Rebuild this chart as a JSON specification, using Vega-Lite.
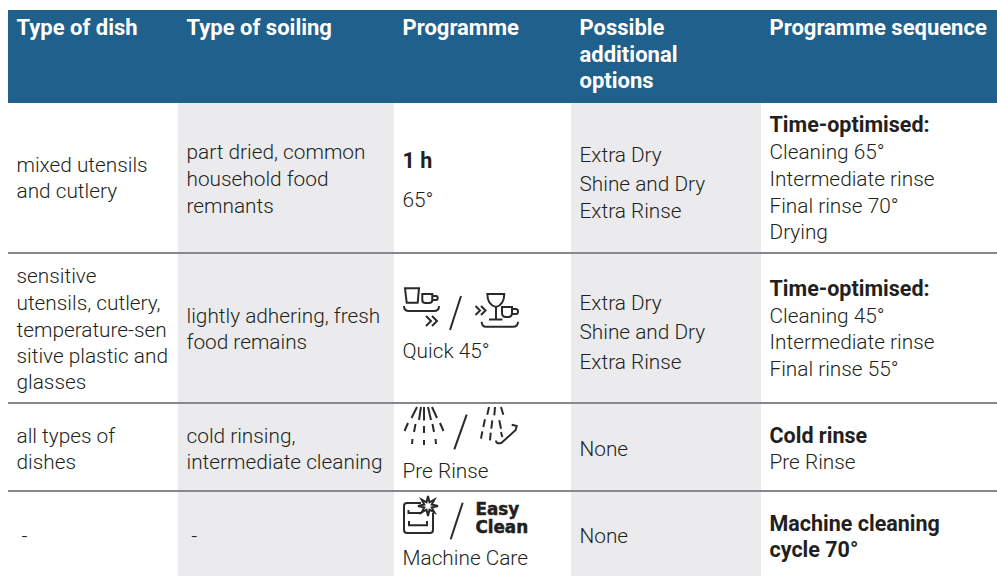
{
"$schema":"https://vega.github.io/schema/vega-lite/v6.json",
"width":997,"height":576,"padding":0,"autosize":{"type":"none"},
"background":"white",
"config":{"view":{"stroke":null}},
"resolve":{"scale":{"y":"independent"}},
"datasets":{
"bands":[
{"name":"soiling","col":2,"colEnd":3,"edge":1,"edgeEnd":5},
{"name":"options","col":4,"colEnd":5,"edge":1,"edgeEnd":5}
],
"head":[{"col":1,"colEnd":6,"edge":0,"edgeEnd":1}],
"rules":[{"col":1,"colEnd":6,"edge":2},{"col":1,"colEnd":6,"edge":3},{"col":1,"colEnd":6,"edge":4}],
"headers":[
{"col":1,"line":1,"t":"Type of dish"},
{"col":2,"line":1,"t":"Type of soiling"},
{"col":3,"line":1,"t":"Programme"},
{"col":4,"line":1,"t":"Possible"},
{"col":4,"line":2,"t":"additional"},
{"col":4,"line":3,"t":"options"},
{"col":5,"line":1,"t":"Programme sequence"}
],
"body":[
{"col":1,"line":8,"t":"mixed utensils"},
{"col":1,"line":11,"t":"and cutlery"},
{"col":2,"line":5,"t":"part dried, common"},
{"col":2,"line":9,"t":"household food"},
{"col":2,"line":13,"t":"remnants"},
{"col":3,"line":12,"t":"65°"},
{"col":4,"line":6,"t":"Extra Dry"},
{"col":4,"line":10,"t":"Shine and Dry"},
{"col":4,"line":14,"t":"Extra Rinse"},
{"col":5,"line":5,"t":"Cleaning 65°"},
{"col":5,"line":9,"t":"Intermediate rinse"},
{"col":5,"line":13,"t":"Final rinse 70°"},
{"col":5,"line":15,"t":"Drying"},
{"col":1,"line":16,"t":"sensitive"},
{"col":1,"line":18,"t":"utensils, cutlery,"},
{"col":1,"line":20,"t":"temperature-sen"},
{"col":1,"line":24,"t":"sitive plastic and"},
{"col":1,"line":27,"t":"glasses"},
{"col":2,"line":19,"t":"lightly adhering, fresh"},
{"col":2,"line":22,"t":"food remains"},
{"col":3,"line":23,"t":"Quick 45°"},
{"col":4,"line":18,"t":"Extra Dry"},
{"col":4,"line":21,"t":"Shine and Dry"},
{"col":4,"line":25,"t":"Extra Rinse"},
{"col":5,"line":19,"t":"Cleaning 45°"},
{"col":5,"line":22,"t":"Intermediate rinse"},
{"col":5,"line":26,"t":"Final rinse 55°"},
{"col":1,"line":28,"t":"all types of"},
{"col":1,"line":30,"t":"dishes"},
{"col":2,"line":28,"t":"cold rinsing,"},
{"col":2,"line":30,"t":"intermediate cleaning"},
{"col":3,"line":31,"t":"Pre Rinse"},
{"col":4,"line":29,"t":"None"},
{"col":5,"line":30,"t":"Pre Rinse"},
{"col":1.03,"line":35,"t":"-"},
{"col":2.022,"line":35,"t":"-"},
{"col":3,"line":37,"t":"Machine Care"},
{"col":4,"line":35,"t":"None"}
],
"lead":[
{"col":3,"line":7,"t":"1 h"},
{"col":5,"line":4,"t":"Time-optimised:"},
{"col":5,"line":17,"t":"Time-optimised:"},
{"col":5,"line":28,"t":"Cold rinse"},
{"col":5,"line":33,"t":"Machine cleaning"},
{"col":5,"line":36,"t":"cycle 70°"}
],
"logo":[
{"col":3.46,"line":32,"t":"Easy"},
{"col":3.46,"line":34,"t":"Clean"}
],
"icons":[
{"icon":"quick","col":3,"edge":2},
{"icon":"prerinse","col":3,"edge":3},
{"icon":"machinecare","col":3,"edge":4}
]
},
"layer":[
{"data":{"name":"head"},"mark":{"type":"rect","color":"#20608c"},
"encoding":{"x":{"field":"col","type":"quantitative","axis":null,"scale":{"domain":[1,2,3,4,5,6],"range":[8,178,394,571,761,997],"nice":false,"zero":false}},"x2":{"field":"colEnd"},
"y":{"field":"edge","type":"quantitative","axis":null,"scale":{"domain":[0,1,2,3,4,5],"range":[10,103,253,403,491,576],"nice":false,"zero":false}},"y2":{"field":"edgeEnd"}}},
{"data":{"name":"bands"},"mark":{"type":"rect","color":"#ebebed"},
"encoding":{"x":{"field":"col","type":"quantitative","axis":null,"scale":{"domain":[1,2,3,4,5,6],"range":[8,178,394,571,761,997],"nice":false,"zero":false}},"x2":{"field":"colEnd"},
"y":{"field":"edge","type":"quantitative","axis":null,"scale":{"domain":[0,1,2,3,4,5],"range":[10,103,253,403,491,576],"nice":false,"zero":false}},"y2":{"field":"edgeEnd"}}},
{"data":{"name":"rules"},"mark":{"type":"rule","color":"#88888c","strokeWidth":2},
"encoding":{"x":{"field":"col","type":"quantitative","axis":null,"scale":{"domain":[1,2,3,4,5,6],"range":[8,178,394,571,761,997],"nice":false,"zero":false}},"x2":{"field":"colEnd"},
"y":{"field":"edge","type":"quantitative","axis":null,"scale":{"domain":[0,1,2,3,4,5],"range":[10,103,253,403,491,576],"nice":false,"zero":false}}}},
{"data":{"name":"icons"},"mark":{"type":"point","filled":false,"fill":"transparent","stroke":"#2b2a29","strokeWidth":2,"opacity":1},
"encoding":{"x":{"field":"col","type":"quantitative","axis":null,"scale":{"domain":[1,2,3,4,5,6],"range":[8,178,394,571,761,997],"nice":false,"zero":false}},
"y":{"field":"edge","type":"quantitative","axis":null,"scale":{"domain":[0,1,2,3,4,5],"range":[10,103,253,403,491,576],"nice":false,"zero":false}},
"size":{"value":4},
"shape":{"field":"icon","type":"nominal","legend":null,"scale":{"domain":["quick","prerinse","machinecare"],"range":[
"M11,35.3 L25,35.3 L23.7,49.7 L12.7,49.7 Z M28.3,41 L38.3,41 L38.3,47 Q38.3,50 35,50 L31.5,50 Q28.3,50 28.3,47 Z M38.3,43 L42,43 Q43.7,43 43.7,45 Q43.7,47 42,47 L38.3,47 M10,53 Q10,58 15,58 L40,58 Q45,58 45,53 M32,63 L37,68 L32,73 M38,63 L43,68 L38,73 M56,77 L67,43 M81.5,53 L86,57.5 L81.5,62 M87,53 L91.5,57.5 L87,62 M93.3,41 L110.3,41 Q110,52 102,54 Q93.5,52 93.3,41 Z M102,54 L102,66 M95,66.5 L108.5,66.5 M108,54 L118,54 L118,60 Q118,64 114,64 L112,64 Q108,64 108,60 Z M118,56 L122,56 Q124,56 124,58.5 Q124,61 122,61 L118,61 M87.7,68.7 Q87.7,73.7 92,73.7 L119,73.7 Q124,73.7 124,68.7",
"M23,4 L17.5,15 M27,4 L25,17 M30,4 L30,17.5 M34,4 L37,17 M38,4 L43,15 M14,20 L10.5,28 M21.5,21 L20,29 M30,23 L30,30 M38.5,21 L40,29 M46,20 L49.5,28 M18.5,36 L18,41 M30,37 L30,42 M41.5,36 L42,41 M60.3,46.3 L72.7,11.7 M95,4 L93.3,11.7 M101,4 L100.3,12.3 M107,4 L109.3,11.7 M91,16.3 L89.3,24 M98.3,17.3 L97.3,25.7 M105.3,17.3 L107,25.7 M88.3,28.3 L87,35.7 M96.7,29.7 L96,37.3 M107,29 L108.3,34 M117.7,21.7 L122.7,23 L121.7,27 L107.7,39.7 Q102,41.5 102,37.5",
"M27,12 L13,12 Q10,12 10,15 L10,39 Q10,42 13,42 L36,42 Q39,42 39,39 L39,22 M14.5,19 L14.5,22 L28,22 M15,30 L15,34.3 L33,34.3 L33,30 M34,5 L35.5,11.3 L40.4,8.6 L37.7,13.5 L44,15 L37.7,16.5 L40.4,21.4 L35.5,18.7 L34,25 L32.5,18.7 L27.6,21.4 L30.3,16.5 L24,15 L30.3,13.5 L27.6,8.6 L32.5,11.3 Z M56.7,48.3 L68.7,11.7"
]}}}},
{"data":{"name":"headers"},"mark":{"type":"text","align":"left","baseline":"alphabetic","dx":8.5,"font":"Roboto","fontWeight":"bold","fontSize":22,"color":"#ffffff"},
"encoding":{"x":{"field":"col","type":"quantitative","axis":null,"scale":{"domain":[1,2,3,4,5,6],"range":[8,178,394,571,761,997],"nice":false,"zero":false}},
"y":{"field":"line","type":"quantitative","axis":null,"scale":{"domain":[1,2,3,4,5,6,7,8,9,10,11,12,13,14,15,16,17,18,19,20,21,22,23,24,25,26,27,28,29,30,31,32,33,34,35,36,37],"range":[35,62,88,132,159,162,168,172,186,191,198,207,213,218,239,283,296,310,323,337,339,349,358,363,369,376,389,443,456,469,478,515,531,533,543,557,565],"nice":false,"zero":false}},"text":{"field":"t","type":"nominal"}}},
{"data":{"name":"body"},"mark":{"type":"text","align":"left","baseline":"alphabetic","dx":8.5,"font":"Roboto","fontWeight":300,"fontSize":20.8,"color":"#231f20"},
"encoding":{"x":{"field":"col","type":"quantitative","axis":null,"scale":{"domain":[1,2,3,4,5,6],"range":[8,178,394,571,761,997],"nice":false,"zero":false}},
"y":{"field":"line","type":"quantitative","axis":null,"scale":{"domain":[1,2,3,4,5,6,7,8,9,10,11,12,13,14,15,16,17,18,19,20,21,22,23,24,25,26,27,28,29,30,31,32,33,34,35,36,37],"range":[35,62,88,132,159,162,168,172,186,191,198,207,213,218,239,283,296,310,323,337,339,349,358,363,369,376,389,443,456,469,478,515,531,533,543,557,565],"nice":false,"zero":false}},"text":{"field":"t","type":"nominal"}}},
{"data":{"name":"lead"},"mark":{"type":"text","align":"left","baseline":"alphabetic","dx":8.5,"font":"Roboto","fontWeight":"bold","fontSize":21.5,"color":"#231f20"},
"encoding":{"x":{"field":"col","type":"quantitative","axis":null,"scale":{"domain":[1,2,3,4,5,6],"range":[8,178,394,571,761,997],"nice":false,"zero":false}},
"y":{"field":"line","type":"quantitative","axis":null,"scale":{"domain":[1,2,3,4,5,6,7,8,9,10,11,12,13,14,15,16,17,18,19,20,21,22,23,24,25,26,27,28,29,30,31,32,33,34,35,36,37],"range":[35,62,88,132,159,162,168,172,186,191,198,207,213,218,239,283,296,310,323,337,339,349,358,363,369,376,389,443,456,469,478,515,531,533,543,557,565],"nice":false,"zero":false}},"text":{"field":"t","type":"nominal"}}},
{"data":{"name":"logo"},"mark":{"type":"text","align":"left","baseline":"alphabetic","font":"DejaVu Sans","fontWeight":"bold","fontSize":16.8,"color":"#231f20","stroke":"#231f20","strokeWidth":0.5},
"encoding":{"x":{"field":"col","type":"quantitative","axis":null,"scale":{"domain":[1,2,3,4,5,6],"range":[8,178,394,571,761,997],"nice":false,"zero":false}},
"y":{"field":"line","type":"quantitative","axis":null,"scale":{"domain":[1,2,3,4,5,6,7,8,9,10,11,12,13,14,15,16,17,18,19,20,21,22,23,24,25,26,27,28,29,30,31,32,33,34,35,36,37],"range":[35,62,88,132,159,162,168,172,186,191,198,207,213,218,239,283,296,310,323,337,339,349,358,363,369,376,389,443,456,469,478,515,531,533,543,557,565],"nice":false,"zero":false}},"text":{"field":"t","type":"nominal"}}}
]
}
